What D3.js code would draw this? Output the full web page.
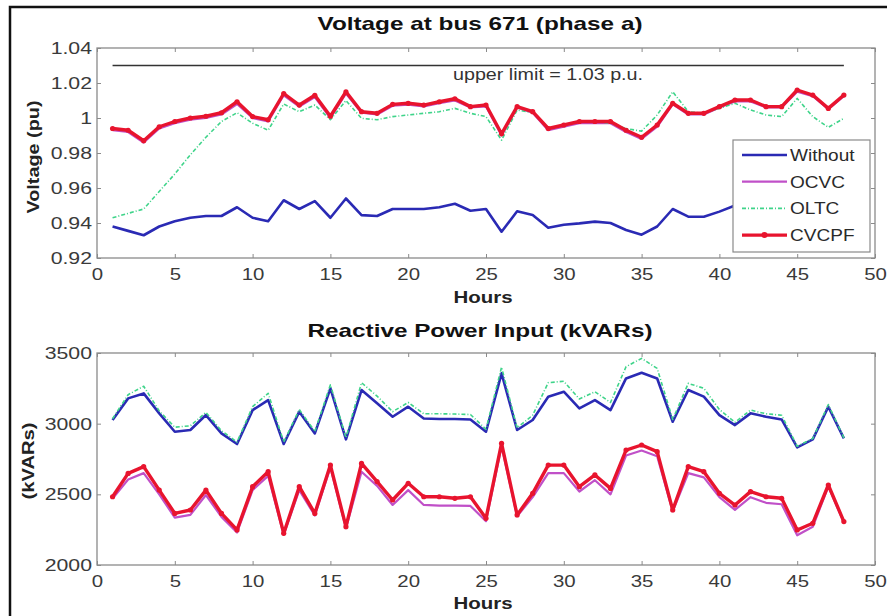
<!DOCTYPE html>
<html><head><meta charset="utf-8">
<script src="https://cdn.jsdelivr.net/npm/d3@7"></script>
<style>
html,body{margin:0;padding:0;background:#fff;}
svg{display:block;font-family:"Liberation Sans",Arial,sans-serif;}
</style></head>
<body>
<svg id="c" width="887" height="616"></svg>
<script>
const hours = [1,2,3,4,5,6,7,8,9,10,11,12,13,14,15,16,17,18,19,20,21,22,23,24,25,26,27,28,29,30,31,32,33,34,35,36,37,38,39,40,41,42,43,44,45,46,47,48];

const seriesNames = ["Without","OCVC","OLTC","CVCPF"];

const vWithout = [0.938,0.9355,0.933,0.938,0.941,0.943,0.944,0.944,0.949,0.943,0.941,0.953,0.948,0.9525,0.943,0.954,0.9445,0.944,0.948,0.948,0.948,0.949,0.951,0.947,0.948,0.935,0.9467,0.9446,0.9373,0.939,0.9398,0.9408,0.940,0.936,0.9333,0.938,0.948,0.9436,0.9436,0.9465,0.950,0.951,0.949,0.949,0.955,0.953,0.946,0.952];
const vOCVC = [0.993,0.992,0.986,0.994,0.997,0.999,1.000,1.002,1.008,1.000,0.998,1.013,1.0065,1.012,1.000,1.014,1.003,1.002,1.007,1.0076,1.0066,1.0085,1.010,1.006,1.0066,0.990,1.006,1.003,0.993,0.995,0.997,0.997,0.997,0.992,0.988,0.995,1.0078,1.002,1.002,1.006,1.0095,1.0095,1.006,1.006,1.015,1.0125,1.005,1.0125];
const vOLTC = [0.943,0.9455,0.948,0.958,0.968,0.979,0.989,0.998,1.003,0.997,0.993,1.008,1.0036,1.0074,0.999,1.010,0.9998,0.999,1.0008,1.0017,1.0027,1.0036,1.0055,1.0027,1.0008,0.9874,1.0046,1.003,0.994,0.996,0.998,0.998,0.997,0.994,0.9925,1.0017,1.015,1.0036,1.0027,1.0055,1.0084,1.0046,1.0017,1.0008,1.0112,1.0008,0.9947,0.9998];
const vCVCPF = [0.994,0.993,0.987,0.995,0.998,1.000,1.001,1.003,1.0093,1.0008,0.999,1.014,1.0074,1.013,1.001,1.015,1.0036,1.0027,1.0078,1.0084,1.0074,1.0093,1.011,1.0065,1.0074,0.991,1.0065,1.0036,0.994,0.996,0.998,0.998,0.998,0.993,0.989,0.996,1.0084,1.0027,1.0027,1.0065,1.0103,1.0103,1.0065,1.0065,1.016,1.0131,1.0055,1.0131];

const qWithout = [3026,3179,3214,3073,2943,2955,3061,2931,2856,3096,3167,2856,3085,2931,3250,2889,3238,3144,3049,3120,3037,3033,3033,3030,2943,3356,2955,3026,3191,3226,3108,3167,3096,3320,3360,3320,3014,3238,3191,3061,2990,3073,3049,3030,2832,2889,3120,2896];
const qOCVC = [2470,2605,2650,2500,2335,2355,2495,2340,2230,2530,2630,2215,2530,2350,2690,2260,2660,2560,2425,2530,2425,2420,2420,2418,2310,2840,2345,2480,2650,2650,2520,2600,2500,2775,2810,2770,2380,2650,2620,2480,2390,2480,2440,2430,2210,2270,2555,2300];
const qOLTC = [3035,3205,3265,3090,2975,2985,3080,2950,2870,3120,3215,2870,3100,2945,3275,2900,3290,3195,3085,3150,3070,3070,3068,3065,2960,3400,2970,3060,3290,3300,3175,3226,3150,3403,3462,3391,3030,3285,3250,3100,3010,3096,3070,3060,2840,2895,3135,2900];
const qCVCPF = [2483,2648,2696,2530,2365,2389,2530,2365,2248,2554,2660,2224,2554,2365,2707,2271,2719,2590,2460,2578,2483,2483,2472,2483,2330,2861,2354,2507,2707,2707,2554,2637,2542,2813,2849,2802,2389,2696,2660,2507,2424,2519,2483,2472,2248,2295,2566,2307];

const xTicks = [0,5,10,15,20,25,30,35,40,45,50];
const vTicks = [0.92,0.94,0.96,0.98,1,1.02,1.04];
const qTicks = [2000,2500,3000,3500];
const upperLimit = 1.03;
const limitHours = [1,48];

const styles = {
  Without:{color:"#2a2ab4", width:2.6, dash:null, marker:false},
  OCVC:{color:"#c050c8", width:2.2, dash:null, marker:false},
  OLTC:{color:"#3fd48a", width:1.6, dash:"4,2,1,2", marker:false},
  CVCPF:{color:"#e8142e", width:3.4, dash:null, marker:true}
};

const svg = d3.select("#c");
svg.append("rect").attr("width",887).attr("height",616).attr("fill","#fff");
// outer frame
svg.append("path").attr("d","M10,616 V7 H887").attr("fill","none").attr("stroke","#111").attr("stroke-width",2.5);

const x = d3.scaleLinear().domain([0,50]).range([97,875]);

function stretch(sel, f){
  sel.each(function(){
    const w = this.getComputedTextLength();
    d3.select(this).attr("textLength", w*f).attr("lengthAdjust","spacingAndGlyphs");
  });
}
function fitText(t, w){ t.attr("textLength", w).attr("lengthAdjust","spacingAndGlyphs"); }

function panel(y, top, bottom, ticks, fmt, data){
  const g = svg.append("g");
  g.append("rect").attr("x",x(0)).attr("y",top).attr("width",x(50)-x(0)).attr("height",bottom-top)
    .attr("fill","#fff").attr("stroke","#8a8a8a").attr("stroke-width",1.3);
  const ax = g.append("g").attr("transform",`translate(0,${bottom})`)
    .call(d3.axisBottom(x).tickValues(xTicks).tickSizeInner(-4).tickSizeOuter(0).tickPadding(10).tickFormat(d3.format("d")));
  const ay = g.append("g").attr("transform",`translate(${x(0)},0)`)
    .call(d3.axisLeft(y).tickValues(ticks).tickSizeInner(-4).tickSizeOuter(0).tickPadding(5).tickFormat(fmt));
  g.append("g").attr("transform",`translate(0,${top})`)
    .call(d3.axisTop(x).tickValues(xTicks).tickSizeInner(-4).tickSizeOuter(0).tickFormat(""));
  g.append("g").attr("transform",`translate(${x(50)},0)`)
    .call(d3.axisRight(y).tickValues(ticks).tickSizeInner(-4).tickSizeOuter(0).tickFormat(""));
  g.selectAll(".domain").remove();
  g.selectAll(".tick line").attr("stroke","#8a8a8a");
  g.selectAll(".tick text").attr("fill","#3a3a3a").style("font-size","17px").style("font-family","Liberation Sans, Arial, sans-serif");
  stretch(ax.selectAll(".tick text"),1.2);
  stretch(ay.selectAll(".tick text"),1.25);
  return g;
}

function drawLines(g, y, data){
  seriesNames.forEach((name,i)=>{
    const s = styles[name];
    const vals = data[i];
    const line = d3.line().x((d,j)=>x(hours[j])).y(d=>y(d));
    const p = g.append("path").datum(vals).attr("d",line).attr("fill","none")
      .attr("stroke",s.color).attr("stroke-width",s.width).attr("stroke-linejoin","round");
    if(s.dash) p.attr("stroke-dasharray",s.dash);
    if(s.marker){
      g.selectAll(null).data(vals).enter().append("circle")
        .attr("cx",(d,j)=>x(hours[j])).attr("cy",d=>y(d)).attr("r",2.6).attr("fill",s.color);
    }
  });
}

// ---------- Top panel ----------
const yTop = d3.scaleLinear().domain([0.92,1.04]).range([258,48]);
const gTop = panel(yTop,48,258,vTicks,d=>d3.format("")(+d.toFixed(2)),null);
gTop.append("line").attr("x1",x(limitHours[0])).attr("x2",x(limitHours[1]))
  .attr("y1",yTop(upperLimit)).attr("y2",yTop(upperLimit)).attr("stroke","#333").attr("stroke-width",1.6);
drawLines(gTop,yTop,[vWithout,vOCVC,vOLTC,vCVCPF]);
fitText(gTop.append("text").attr("x",453).attr("y",80).attr("fill","#333").style("font-size","16px")
  .text("upper limit = 1.03 p.u."),190);

// legend
const lg = svg.append("g");
lg.append("rect").attr("x",733).attr("y",140).attr("width",137).attr("height",112)
  .attr("fill","#fff").attr("stroke","#8a8a8a").attr("stroke-width",1.2);
seriesNames.forEach((name,i)=>{
  const s = styles[name];
  const yy = 155 + i*26.7;
  const l = lg.append("line").attr("x1",742).attr("x2",787).attr("y1",yy).attr("y2",yy)
    .attr("stroke",s.color).attr("stroke-width",s.width);
  if(s.dash) l.attr("stroke-dasharray",s.dash);
  if(s.marker) lg.append("circle").attr("cx",764.5).attr("cy",yy).attr("r",3).attr("fill",s.color);
  const t = lg.append("text").attr("x",790).attr("y",yy+6).attr("fill","#2a2a2a").style("font-size","17px").text(name);
  stretch(t,1.12);
});

// ---------- Bottom panel ----------
const yBot = d3.scaleLinear().domain([2000,3500]).range([565,353]);
const gBot = panel(yBot,353,565,qTicks,d3.format("d"),null);
drawLines(gBot,yBot,[qWithout,qOCVC,qOLTC,qCVCPF]);

// ---------- titles and labels ----------
fitText(svg.append("text").attr("x",480).attr("y",30).attr("text-anchor","middle").attr("font-weight","bold")
  .style("font-size","19px").attr("fill","#111").text("Voltage at bus 671 (phase a)"),325);
fitText(svg.append("text").attr("x",480).attr("y",337).attr("text-anchor","middle").attr("font-weight","bold")
  .style("font-size","19px").attr("fill","#111").text("Reactive Power Input (kVARs)"),345);
fitText(svg.append("text").attr("x",483).attr("y",303).attr("text-anchor","middle").attr("font-weight","bold")
  .style("font-size","16px").attr("fill","#222").text("Hours"),59);
fitText(svg.append("text").attr("x",483).attr("y",609).attr("text-anchor","middle").attr("font-weight","bold")
  .style("font-size","16px").attr("fill","#222").text("Hours"),59);
fitText(svg.append("text").attr("transform","translate(39,157) rotate(-90)").attr("text-anchor","middle")
  .attr("font-weight","bold").style("font-size","16px").attr("fill","#222").text("Voltage (pu)"),113);
fitText(svg.append("text").attr("transform","translate(34,461) rotate(-90)").attr("text-anchor","middle")
  .attr("font-weight","bold").style("font-size","16px").attr("fill","#222").text("(kVARs)"),77);
</script>
</body></html>
